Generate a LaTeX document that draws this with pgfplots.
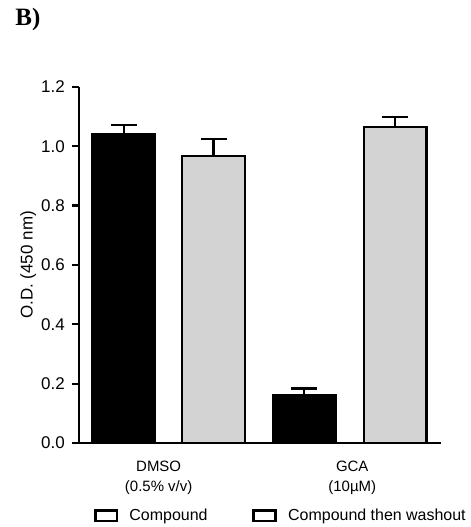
\documentclass[border=0pt]{standalone}
\usepackage{fontspec}
\setmainfont{Liberation Sans}
\newfontfamily\timesfont{Liberation Serif}
\usepackage{pgfplots}
\pgfplotsset{compat=1.18}
\definecolor{lightbar}{HTML}{D3D3D3}

\begin{document}
\begin{tikzpicture}
\begin{axis}[
  scale only axis, width=181.5pt, height=178.5pt,
  xmin=79, xmax=442, ymin=0, ymax=1.2,
  axis x line=bottom, axis y line=left,
  axis line style={-, line width=1.1pt},
  ytick={0,0.2,0.4,0.6,0.8,1.0,1.2},
  yticklabel style={/pgf/number format/fixed, /pgf/number format/fixed zerofill,
    /pgf/number format/precision=1, /pgf/number format/assume math mode=true,
    font=\fontsize{8.5}{10}\selectfont},
  ytick style={line width=1.1pt, black},
  tick align=outside, major tick length=3.5pt,
  xtick={159,353},
  xticklabels={{DMSO\\(0.5\% v/v)},{GCA\\(10µM)}},
  x tick label style={align=center, font=\fontsize{7.5}{10}\selectfont, yshift=-2pt},
  x tick style={draw=none},
  ylabel={O.D. (450 nm)},
  every axis y label/.style={at={(rel axis cs:-0.14,0.5)}, rotate=90, anchor=center, font=\fontsize{8.5}{10}\selectfont},
  legend columns=2,
  legend style={draw=none, fill=none, at={(rel axis cs:0.04,-0.204)}, anchor=west,
    font=\fontsize{8}{10}\selectfont, inner sep=0pt,
    /tikz/every odd column/.append style={column sep=3.5pt},
    /tikz/every even column/.append style={column sep=20.5pt}},
  clip=false,
]
\addplot[ybar, bar width=63, bar shift=0pt, fill=black, draw=black, line width=1.1pt, forget plot,
  error bars/.cd, y dir=plus, y explicit,
  error bar style={line width=1.1pt, black},
  error mark options={rotate=90, mark size=6.5pt, line width=1.1pt, black}]
  coordinates {(124,1.042) +- (0,0.030) (305,0.161) +- (0,0.023)};
\addplot[ybar, bar width=63, bar shift=0pt, fill=lightbar, draw=black, line width=1.1pt, forget plot,
  error bars/.cd, y dir=plus, y explicit,
  error bar style={line width=1.1pt, black},
  error mark options={rotate=90, mark size=6.5pt, line width=1.1pt, black}]
  coordinates {(214,0.966) +- (0,0.058) (396,1.064) +- (0,0.035)};
\addlegendimage{legend image code/.code={\draw[line width=1.4pt, fill=white] (0pt,-2.6pt) rectangle (11pt,2.6pt);}}
\addlegendentry{Compound}
\addlegendimage{legend image code/.code={\draw[line width=1.4pt, fill=white] (0pt,-2.6pt) rectangle (11pt,2.6pt);}}
\addlegendentry{Compound then washout}
\node[font=\timesfont\bfseries\fontsize{12.5}{14}\selectfont] at (rel axis cs:-0.1405,1.1877) {B)};
\path (rel axis cs:-0.2176,-0.2325) rectangle (rel axis cs:1.0826,1.2437);
\end{axis}
\end{tikzpicture}
\end{document}
